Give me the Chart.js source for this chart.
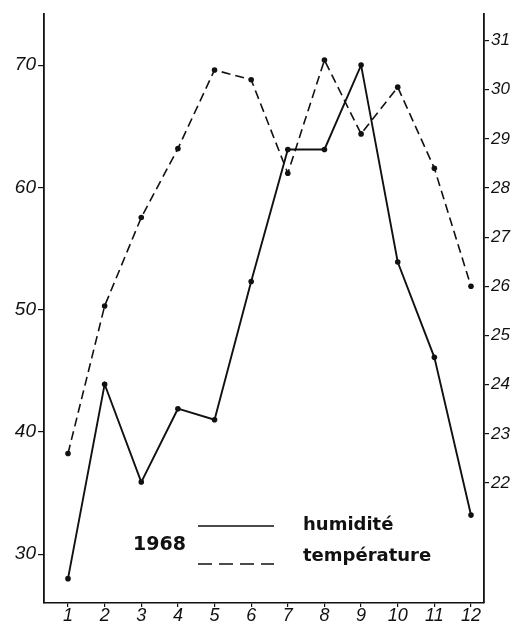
<!DOCTYPE html>
<html>
<head>
<meta charset="utf-8">
<script src="https://cdn.jsdelivr.net/npm/chart.js@4.4.1/dist/chart.umd.min.js"></script>
<style>
  html, body { margin: 0; padding: 0; background: #fff; }
</style>
</head>
<body>
<canvas id="chart" width="518" height="630"></canvas>
<script>
'use strict';

// months 1..12, humidity on left axis, temperature on right axis
var months = [1, 2, 3, 4, 5, 6, 7, 8, 9, 10, 11, 12];
var humidite = [28.0, 43.9, 35.9, 41.9, 41.0, 52.3, 63.1, 63.1, 70.0, 53.9, 46.1, 33.2];
var temperature = [22.6, 25.6, 27.4, 28.8, 30.4, 30.2, 28.3, 30.6, 29.1, 30.05, 28.4, 26.0];
var humTicks = [30, 40, 50, 60, 70];
var tempTicks = [22, 23, 24, 25, 26, 27, 28, 29, 30, 31];
var legendYear = '1968';

var ink = '#111';
var tickFont = "'Liberation Sans', sans-serif";

function points(values) {
    return months.map(function (m, i) { return { x: m, y: values[i] }; });
}

function fixedTicks(list) {
    return function (axis) {
        axis.ticks = list.map(function (v) { return { value: v }; });
    };
}

var legend1968 = {
    id: 'legend1968',
    afterDraw: function (chart) {
        var ctx = chart.ctx;
        var lineY = [526, 564];
        var textY = [530, 561];
        ctx.save();
        ctx.fillStyle = ink;
        ctx.strokeStyle = ink;
        ctx.textBaseline = 'alphabetic';
        ctx.font = "bold 19px 'DejaVu Sans', sans-serif";
        ctx.fillText(legendYear, 133, 550);
        chart.data.datasets.forEach(function (ds, i) {
            ctx.lineWidth = 1.6;
            ctx.setLineDash(ds.borderDash && ds.borderDash.length ? [14, 7] : []);
            ctx.beginPath();
            ctx.moveTo(198, lineY[i]);
            ctx.lineTo(274, lineY[i]);
            ctx.stroke();
            ctx.setLineDash([]);
            ctx.font = "bold 18px 'DejaVu Sans', sans-serif";
            ctx.fillText(ds.label, 303, textY[i]);
        });
        ctx.restore();
    }
};

var ctx = document.getElementById('chart').getContext('2d');
var chart = new Chart(ctx, {
    type: 'line',
    data: {
        datasets: [{
            label: 'humidité',
            data: points(humidite),
            yAxisID: 'yHum',
            borderColor: ink,
            backgroundColor: ink,
            borderWidth: 1.9,
            pointRadius: 2.8,
            pointBorderWidth: 0,
            tension: 0
        }, {
            label: 'température',
            data: points(temperature),
            yAxisID: 'yTemp',
            borderColor: ink,
            backgroundColor: ink,
            borderWidth: 1.6,
            borderDash: [9, 5],
            pointRadius: 2.8,
            pointBorderWidth: 0,
            tension: 0
        }]
    },
    options: {
        responsive: false,
        animation: false,
        devicePixelRatio: 1,
        layout: { padding: { top: 9, left: 0, right: 0, bottom: 0 } },
        plugins: {
            legend: { display: false },
            tooltip: { enabled: false }
        },
        scales: {
            x: {
                type: 'linear',
                min: 0.345,
                max: 12.355,
                afterBuildTicks: fixedTicks(months),
                afterFit: function (axis) { axis.height = 27; },
                grid: { drawOnChartArea: false, tickLength: 4, color: ink, lineWidth: 1.2 },
                border: { color: ink, width: 1.5 },
                ticks: {
                    autoSkip: false,
                    maxRotation: 0,
                    padding: -2,
                    color: ink,
                    font: { family: "'Liberation Sans Narrow', 'Liberation Sans', sans-serif", size: 18, style: 'italic' }
                }
            },
            yHum: {
                type: 'linear',
                position: 'left',
                min: 26.01,
                max: 74.23,
                afterBuildTicks: fixedTicks(humTicks),
                afterFit: function (axis) { axis.width = 44; },
                grid: { drawOnChartArea: false, tickLength: 6, color: ink, lineWidth: 1.2 },
                border: { color: ink, width: 1.8 },
                ticks: {
                    padding: 2,
                    color: ink,
                    font: { family: tickFont, size: 19, style: 'italic' }
                }
            },
            yTemp: {
                type: 'linear',
                position: 'right',
                min: 19.56,
                max: 31.55,
                afterBuildTicks: fixedTicks(tempTicks),
                afterFit: function (axis) { axis.width = 34; },
                grid: { drawOnChartArea: false, tickLength: 5, color: ink, lineWidth: 1.2 },
                border: { color: ink, width: 1.8 },
                ticks: {
                    padding: 2,
                    color: ink,
                    font: { family: tickFont, size: 17, style: 'italic' }
                }
            }
        }
    },
    plugins: [legend1968]
});
</script>
</body>
</html>
